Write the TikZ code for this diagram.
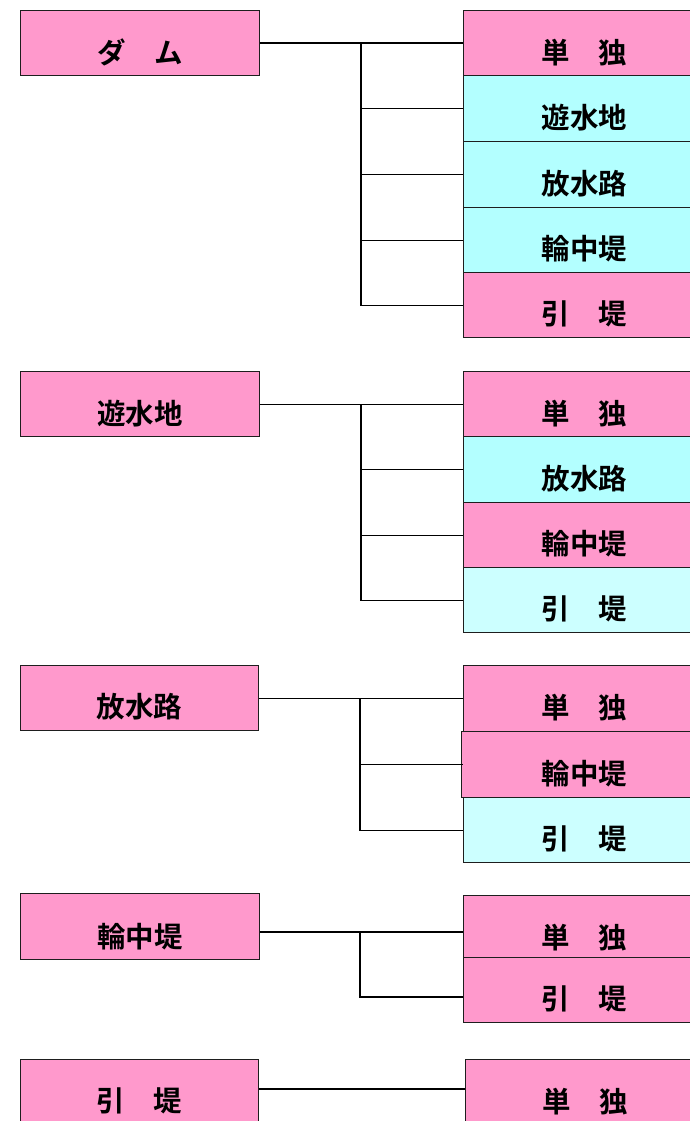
\documentclass[tikz,border=0pt]{standalone}
\usepackage{fontspec}
\newfontfamily\jp{Noto Sans CJK JP}[BoldFont={Noto Sans CJK JP Bold}]
\definecolor{pk}{RGB}{255,153,204}
\definecolor{cy}{RGB}{179,255,255}
\definecolor{lc}{RGB}{204,255,255}
\definecolor{ed}{RGB}{30,30,30}
\tikzset{
  box/.style={draw=ed,line width=1.2pt,anchor=north west,inner sep=0pt,minimum height=#1},
  box/.default=65pt,
  lbox/.style={box,minimum width=239pt},
  rbox/.style={box,minimum width=242pt},
  txt/.style={font=\jp\bfseries\fontsize{28.5}{28.5}\selectfont,yshift=-9pt},
  conn/.style={draw=black,line width=1.2pt}
}
\begin{document}
\begin{tikzpicture}[x=1pt,y=-1pt]
\clip (0,0) rectangle (690,1121);
\fill[white] (0,0) rectangle (690,1121);
% group 1
\node[lbox,fill=pk,label={[txt]center:ダ　ム}] (a) at (20,10) {};
\node[rbox,fill=pk,label={[txt]center:単　独}] (a1) at (463,10) {};
\node[rbox,box=66pt,fill=cy,label={[txt]center:遊水地}] (a2) at (463,75) {};
\node[rbox,box=66pt,fill=cy,label={[txt]center:放水路}] (a3) at (463,141) {};
\node[rbox,fill=cy,label={[txt]center:輪中堤}] (a4) at (463,207) {};
\node[rbox,fill=pk,label={[txt]center:引　堤}] (a5) at (463,272) {};
\coordinate (ja) at (361,43);
\draw[conn] (a.east) -- (a.east -| a1.west);
\draw[conn] (ja) |- (a5.west);
\draw[conn] (ja |- a2.west) -- (a2.west);
\draw[conn] (ja |- a3.west) -- (a3.west);
\draw[conn] (ja |- a4.west) -- (a4.west);
% group 2
\node[lbox,fill=pk,label={[txt]center:遊水地}] (b) at (20,371) {};
\node[rbox,fill=pk,label={[txt]center:単　独}] (b1) at (463,371) {};
\node[rbox,box=66pt,fill=cy,label={[txt]center:放水路}] (b2) at (463,436) {};
\node[rbox,fill=pk,label={[txt]center:輪中堤}] (b3) at (463,502) {};
\node[rbox,fill=lc,label={[txt]center:引　堤}] (b4) at (463,567) {};
\coordinate (jb) at (361,404);
\draw[conn] (b.east) -- (b.east -| b1.west);
\draw[conn] (jb) |- (b4.west);
\draw[conn] (jb |- b2.west) -- (b2.west);
\draw[conn] (jb |- b3.west) -- (b3.west);
% group 3
\node[lbox,minimum width=238pt,fill=pk,label={[txt]center:放水路}] (c) at (20,665) {};
\node[rbox,box=66pt,fill=pk,label={[txt]center:単　独}] (c1) at (463,665) {};
\node[rbox,box=66pt,minimum width=244pt,fill=pk,label={[txt,xshift=1pt]center:輪中堤}] (c2) at (461,731) {};
\node[rbox,fill=lc,label={[txt]center:引　堤}] (c3) at (463,797) {};
\coordinate (jc) at (360,698);
\draw[conn] (c.east) -- (c.east -| c1.west);
\draw[conn] (jc) |- (c3.west);
\draw[conn] (jc |- c2.west) -- (c2.west -| c1.west);
% group 4
\node[lbox,box=66pt,fill=pk,label={[txt,yshift=-1pt]center:輪中堤}] (d) at (20,893) {};
\node[rbox,box=62pt,fill=pk,label={[txt,yshift=-2pt]center:単　独}] (d1) at (463,895) {};
\node[rbox,fill=pk,label={[txt]center:引　堤}] (d2) at (463,957) {};
\coordinate (jd) at (360,932);
\coordinate (jd2) at (360,997);
\draw[conn] (d.east |- jd) -- (jd -| d1.west);
\draw[conn] (jd) -- (jd2) -- (jd2 -| d2.west);
% group 5
\node[lbox,minimum width=238pt,fill=pk,label={[txt]center:引　堤}] (e) at (20,1059) {};
\node[rbox,minimum width=240pt,fill=pk,label={[txt]center:単　独}] (e1) at (465,1059) {};
\coordinate (je) at (360,1089);
\draw[conn] (e.east |- je) -- (je -| e1.west);
\end{tikzpicture}
\end{document}
